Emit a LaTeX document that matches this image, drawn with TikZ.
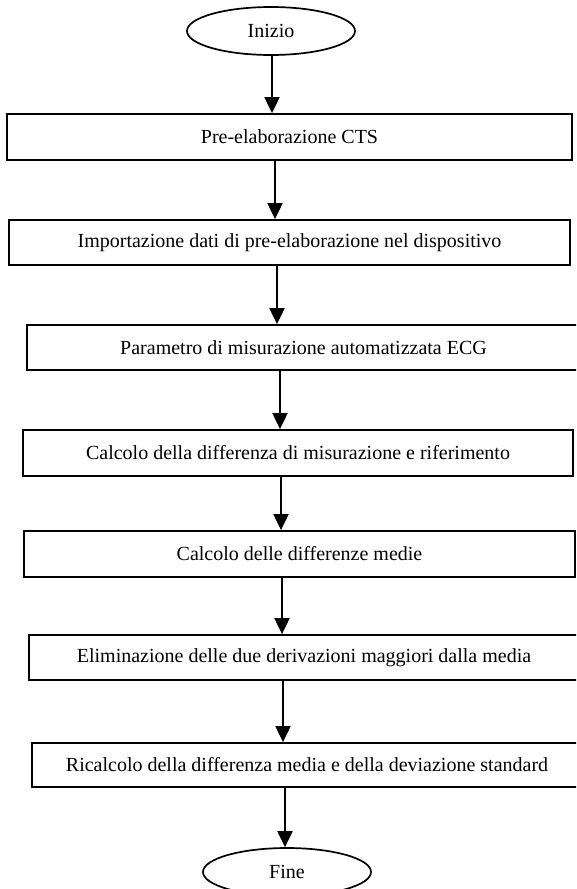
\documentclass[tikz,border=0pt]{standalone}
\usepackage{fontspec}
\setmainfont{Liberation Serif}
\usetikzlibrary{shapes.geometric,arrows.meta}
\begin{document}
\begin{tikzpicture}[x=1pt,y=-1pt,
  every node/.style={font=\fontsize{20}{23}\selectfont},
  stepbox/.style={draw, line width=1.8pt, rectangle, inner sep=0pt},
  term/.style={draw, line width=1.7pt, ellipse, inner sep=0pt, minimum width=168pt, minimum height=48pt},
  arr/.style={line width=2pt, -{Triangle[length=16pt,width=15pt]}}]
\useasboundingbox (0,0) rectangle (576,889);
\clip (0,0) rectangle (576,889);
\node[term] (s) at (271,31) {Inizio};
\node[stepbox, minimum width=565pt, minimum height=46pt] (b1) at (289.5,137) {Pre-elaborazione CTS};
\node[stepbox, minimum width=561pt, minimum height=45pt] (b2) at (289.5,242.5) {Importazione dati di pre-elaborazione nel dispositivo};
\node[stepbox, minimum width=553pt, minimum height=45pt] (b3) at (303.5,347.5) {Parametro di misurazione automatizzata ECG};
\node[stepbox, minimum width=550pt, minimum height=46pt] (b4) at (298,453) {Calcolo della differenza di misurazione e riferimento};
\node[stepbox, minimum width=551pt, minimum height=46pt] (b5) at (299.5,554) {Calcolo delle differenze medie};
\node[stepbox, minimum width=550pt, minimum height=45pt] (b6) at (304,657.5) {Eliminazione delle due derivazioni maggiori dalla media};
\node[stepbox, minimum width=550pt, minimum height=44pt] (b7) at (307,765) {Ricalcolo della differenza media e della deviazione standard};
\node[term] (f) at (287,872) {Fine};
\coordinate (x1) at (272,0);
\coordinate (x2) at (275,0);
\coordinate (x3) at (277,0);
\coordinate (x4) at (280,0);
\coordinate (x5) at (281,0);
\coordinate (x6) at (282,0);
\coordinate (x7) at (283,0);
\coordinate (x8) at (285,0);
\draw[arr] (s.south -| x1) -- (b1.north -| x1);
\draw[arr] (b1.south -| x2) -- (b2.north -| x2);
\draw[arr] (b2.south -| x3) -- (b3.north -| x3);
\draw[arr] (b3.south -| x4) -- (b4.north -| x4);
\draw[arr] (b4.south -| x5) -- (b5.north -| x5);
\draw[arr] (b5.south -| x6) -- (b6.north -| x6);
\draw[arr] (b6.south -| x7) -- (b7.north -| x7);
\draw[arr] (b7.south -| x8) -- (f.north -| x8);
\end{tikzpicture}
\end{document}
